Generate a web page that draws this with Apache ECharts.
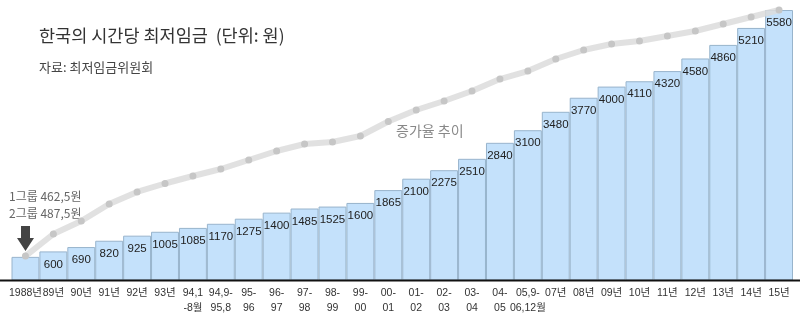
<!DOCTYPE html>
<html><head><meta charset="utf-8">
<script src="https://cdn.jsdelivr.net/npm/echarts@6/dist/echarts.min.js"></script>
<style>html,body{margin:0;padding:0;background:#fff}#c{width:800px;height:325px}</style>
</head><body><div id="c"></div>
<script>
const categories = ['1988년','89년','90년','91년','92년','93년','94,1\n-8월','94,9-\n95,8','95-\n96','96-\n97','97-\n98','98-\n99','99-\n00','00-\n01','01-\n02','02-\n03','03-\n04','04-\n05','05,9-\n06,12월','07년','08년','09년','10년','11년','12년','13년','14년','15년'];
const wages = [487.5,600,690,820,925,1005,1085,1170,1275,1400,1485,1525,1600,1865,2100,2275,2510,2840,3100,3480,3770,4000,4110,4320,4580,4860,5210,5580];
const wageLabels = ['','600','690','820','925','1005','1085','1170','1275','1400','1485','1525','1600','1865','2100','2275','2510','2840','3100','3480','3770','4000','4110','4320','4580','4860','5210','5580'];
const trend = [505,959,1227,1578,1826,2001,2156,2300,2486,2671,2816,2857,2981,3280,3517,3703,3909,4156,4321,4569,4755,4878,4940,5043,5147,5291,5435,5580];
const titleText = '한국의 시간당 최저임금  (단위: 원)';
const sourceText = '자료: 최저임금위원회';
const trendText = '증가율 추이';
const noteLines = ['1그룹 462,5원', '2그룹 487,5원'];

const chart = echarts.init(document.getElementById('c'), null, {renderer: 'canvas'});
const KR = "'Noto Sans CJK KR', 'Noto Sans', sans-serif";
const NUM = "'Liberation Sans', 'Noto Sans CJK KR', sans-serif";
chart.setOption({
  animation: false,
  title: [
    {text: titleText, left: 34, top: 22, textStyle: {fontFamily: KR, fontSize: 17.5, fontWeight: 'normal', color: '#333'}},
    {text: sourceText, left: 34, top: 56, textStyle: {fontFamily: KR, fontSize: 13, fontWeight: 'normal', color: '#444'}}
  ],
  grid: {left: 11.5, right: 7, top: 10, bottom: 44.5, containLabel: false},
  xAxis: {
    type: 'category', data: categories, boundaryGap: true,
    axisLine: {show: false}, axisTick: {show: false},
    axisLabel: {interval: 0, margin: 5, fontFamily: NUM, fontSize: 10.5, color: '#333', lineHeight: 15}
  },
  yAxis: {type: 'value', min: 0, max: 5580, show: false, splitLine: {show: false}},
  series: [
    {
      type: 'bar', data: wages, barWidth: '100%', barGap: '0%', barCategoryGap: '0%',
      itemStyle: {color: '#c4e1fb', borderColor: '#98b4cc', borderWidth: 1},
      label: {show: true, position: 'insideTop', distance: 7, fontFamily: "'Liberation Sans', sans-serif", fontSize: 11.5, color: '#222',
        formatter: p => wageLabels[p.dataIndex]},
      z: 2
    },
    {
      type: 'line', data: trend, symbol: 'circle', symbolSize: 7, z: 3,
      lineStyle: {color: '#dcdcdc', width: 6, opacity: 0.85, cap: 'round', join: 'round'},
      itemStyle: {color: '#c6c6c6'}
    }
  ],
  graphic: [
    {type: 'line', shape: {x1: 0, y1: 280.5, x2: 800, y2: 280.5}, style: {stroke: '#111', lineWidth: 2}, z: 10},
    {type: 'text', left: 396, top: 124, style: {text: trendText, font: "14px 'Noto Sans CJK KR'", fill: '#888'}},
    {type: 'text', left: 9, top: 190, style: {text: noteLines[0], font: "12px 'Noto Sans CJK KR'", fill: '#666'}},
    {type: 'text', left: 9, top: 207, style: {text: noteLines[1], font: "12px 'Noto Sans CJK KR'", fill: '#666'}},
    {type: 'polygon', shape: {points: [[21,226],[30,226],[30,238],[34,238],[25.5,251],[17,238],[21,238]]}, style: {fill: '#444'}, z: 10}
  ]
});
</script></body></html>
